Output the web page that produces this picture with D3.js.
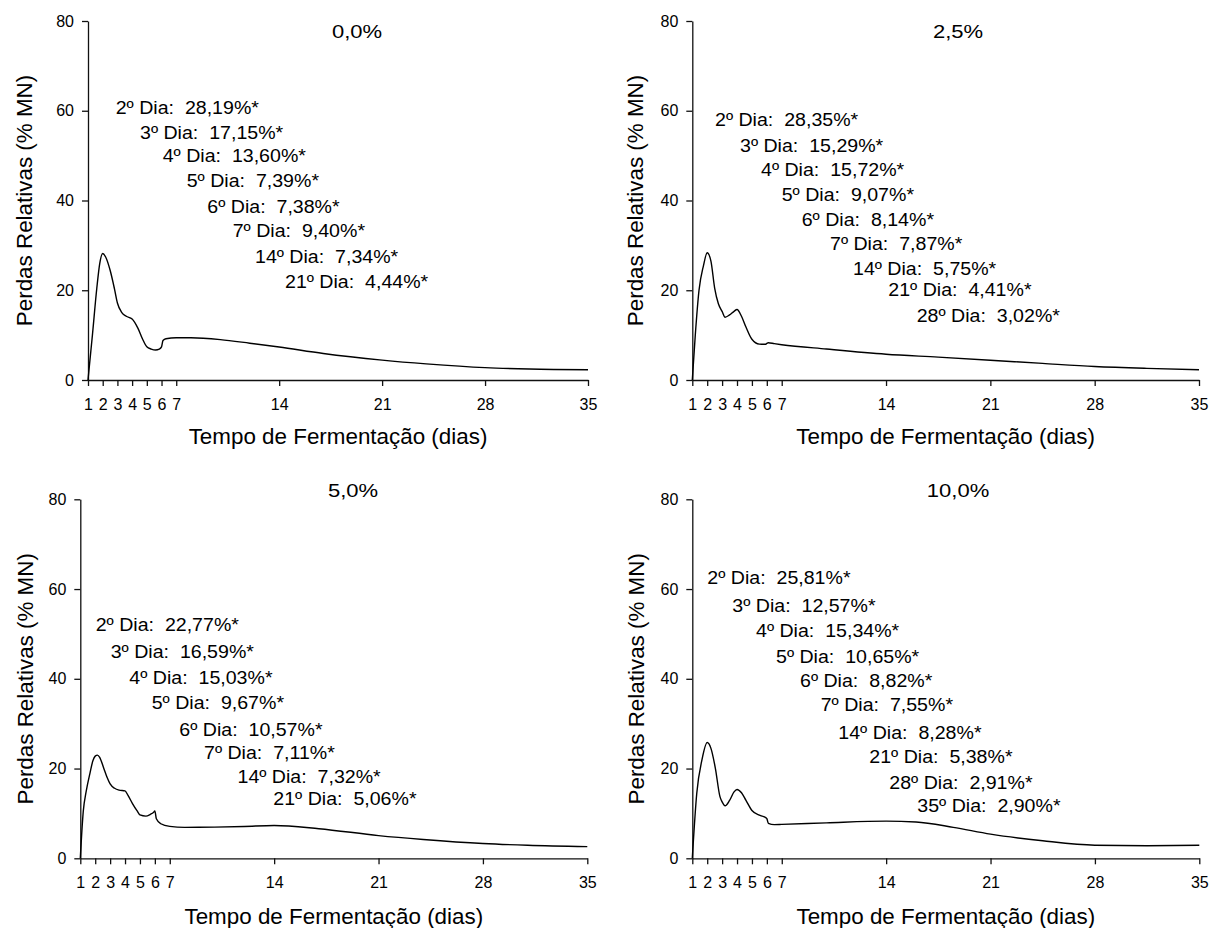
<!DOCTYPE html>
<html>
<head>
<meta charset="utf-8">
<script src="https://cdn.jsdelivr.net/npm/d3@7"></script>
<style>
  body { margin: 0; background: #fff; }
  svg { display: block; }
  text { font-family: "Liberation Sans", Arial, Helvetica, sans-serif; fill: #000; }
</style>
</head>
<body>
<svg id="chart" width="1210" height="928"></svg>
<script>
// ---- data -------------------------------------------------------------
const dayTicks  = [1, 2, 3, 4, 5, 6, 7, 14, 21, 28, 35];
const lossTicks = [0, 20, 40, 60, 80];
const doses     = ["0,0%", "2,5%", "5,0%", "10,0%"];
const xTitle    = "Tempo de Fermentação (dias)";
const yTitle    = "Perdas Relativas (% MN)";

// relative losses (% MN) along fermentation time (days), one series per dose
const days00 = [1, 1.3, 1.6, 1.8, 2, 2.2, 2.5, 2.8, 3, 3.3, 3.6, 4, 4.4, 4.7, 5, 5.3, 5.6, 5.85, 6, 6.1, 6.3, 7, 8, 10, 12, 14, 17, 21, 24, 28, 31, 35];
const loss00 = [0, 10, 20.5, 26, 28.19, 27.4, 24.5, 20.3, 17.15, 15, 14.2, 13.60, 11.5, 9.2, 7.39, 6.9, 6.7, 6.9, 7.38, 8.8, 9.2, 9.40, 9.4, 9.0, 8.2, 7.34, 5.9, 4.44, 3.6, 2.75, 2.45, 2.3];

const days25 = [1, 1.2, 1.45, 1.75, 2, 2.25, 2.5, 2.75, 3, 3.2, 3.5, 3.8, 4, 4.3, 4.6, 5, 5.5, 5.9, 6, 6.1, 6.5, 7, 10, 14, 17.5, 21, 24.5, 28, 31.5, 35];
const loss25 = [0, 10, 20, 25.5, 28.35, 26.5, 20.5, 17.0, 15.29, 14.0, 14.5, 15.3, 15.72, 14.2, 11.8, 9.07, 8.0, 7.95, 8.14, 8.3, 8.1, 7.87, 6.9, 5.75, 5.1, 4.41, 3.7, 3.02, 2.6, 2.3];

const days50 = [1, 1.2, 1.4, 1.65, 1.85, 2, 2.15, 2.3, 2.55, 2.8, 3, 3.3, 3.6, 4, 4.2, 4.5, 4.8, 5, 5.4, 5.7, 5.9, 6, 6.1, 6.4, 7, 8, 10, 12, 14, 17, 21, 24, 28, 31, 35];
const loss50 = [0, 10.5, 15, 19, 21.8, 22.77, 23.0, 22.5, 20.3, 18, 16.59, 15.6, 15.2, 15.03, 14.0, 12.2, 10.6, 9.67, 9.4, 9.8, 10.2, 10.57, 8.8, 7.7, 7.11, 6.9, 6.95, 7.1, 7.32, 6.6, 5.06, 4.2, 3.3, 2.9, 2.6];

const days100 = [1, 1.3, 1.65, 2, 2.25, 2.55, 2.85, 3, 3.2, 3.5, 3.8, 4, 4.3, 4.6, 5, 5.5, 5.95, 6, 6.1, 6.5, 7, 10, 14, 16, 18.5, 21, 24.5, 28, 31.5, 35];
const loss100 = [0, 14.5, 22, 25.81, 24.5, 20, 13.8, 12.57, 11.7, 12.9, 14.8, 15.34, 14.6, 12.9, 10.65, 9.6, 9.0, 8.82, 7.8, 7.5, 7.55, 7.9, 8.28, 8.1, 6.9, 5.38, 3.9, 2.91, 2.8, 2.90];

// days whose loss is marked as significant (*)
const noteDays00  = [2, 3, 4, 5, 6, 7, 14, 21];
const noteDays25  = [2, 3, 4, 5, 6, 7, 14, 21, 28];
const noteDays50  = [2, 3, 4, 5, 6, 7, 14, 21];
const noteDays100 = [2, 3, 4, 5, 6, 7, 14, 21, 28, 35];

// ---- layout -------------------------------------------------------------
const panels = [
  { days: days00, loss: loss00, notes: noteDays00,
    x: [88, 588], y: [380, 21], titleX: 357, titleY: 38, yLabX: 32, xLabY: 444,
    noteX: [115.7, 140, 162.7, 186.7, 207.3, 232.7, 255, 285],
    noteY: [114, 138.5, 162, 187, 212.5, 237, 262.5, 288] },
  { days: days25, loss: loss25, notes: noteDays25,
    x: [692.3, 1199], y: [380, 21], titleX: 958, titleY: 38, yLabX: 643, xLabY: 444,
    noteX: [715, 740, 761, 781.7, 801.7, 830, 853, 888.3, 916.7],
    noteY: [126, 151.5, 176, 201, 226, 250, 274.5, 296, 322] },
  { days: days50, loss: loss50, notes: noteDays50,
    x: [80.3, 587.3], y: [858.3, 499.3], titleX: 353, titleY: 497, yLabX: 33, xLabY: 924,
    noteX: [95.7, 110.7, 129.3, 151.7, 179.3, 204, 237.5, 273.3],
    noteY: [631, 657.7, 684.3, 709.3, 736, 759.3, 782.7, 805.3] },
  { days: days100, loss: loss100, notes: noteDays100,
    x: [692.3, 1199.3], y: [858.3, 499.3], titleX: 958, titleY: 497, yLabX: 644, xLabY: 924,
    noteX: [707.3, 732.3, 756, 776, 800, 820.7, 838.3, 869.3, 889.3, 917.3],
    noteY: [584.3, 611.7, 636.7, 663.3, 686.7, 711, 738.5, 763.3, 789.3, 812] }
];

const svg = d3.select("#chart");
const pct = v => v.toFixed(2).replace(".", ",");

// text drawn with a slight horizontal stretch
function wideText(g, x, y, s, size, sx, anchor) {
  return g.append("text")
    .attr("transform", `translate(${x},${y}) scale(${sx},1)`)
    .attr("text-anchor", anchor || "start")
    .style("font-size", size + "px")
    .style("white-space", "pre")
    .text(s);
}

panels.forEach((p, i) => {
  const g = svg.append("g");
  const x = d3.scaleLinear().domain([1, 35]).range(p.x);
  const y = d3.scaleLinear().domain([0, 80]).range(p.y);

  // x axis
  const gx = g.append("g")
    .attr("transform", `translate(0,${p.y[0]})`)
    .call(d3.axisBottom(x).tickValues(dayTicks).tickFormat(d3.format("d"))
      .tickSize(6).tickSizeOuter(0).tickPadding(12.5));
  // y axis
  const gy = g.append("g")
    .attr("transform", `translate(${p.x[0]},0)`)
    .call(d3.axisLeft(y).tickValues(lossTicks).tickFormat(d3.format("d"))
      .tickSize(6).tickSizeOuter(0).tickPadding(8));

  [gx, gy].forEach(a => {
    a.select(".domain").attr("stroke", "#111").attr("stroke-width", 1.3);
    a.selectAll(".tick line").attr("stroke", "#111").attr("stroke-width", 1.3);
    a.selectAll(".tick text")
      .style("font-family", "'Liberation Sans', Arial, sans-serif")
      .style("font-size", "16px").attr("fill", "#000");
  });

  // loss curve
  const pts = p.days.map((d, k) => [d, p.loss[k]]);
  g.append("path")
    .datum(pts)
    .attr("fill", "none")
    .attr("stroke", "#000")
    .attr("stroke-width", 1.4)
    .attr("stroke-linejoin", "round")
    .attr("d", d3.line().x(d => x(d[0])).y(d => y(d[1])).curve(d3.curveMonotoneX));

  // dose title
  wideText(g, p.titleX, p.titleY, doses[i], 18.5, 1.19, "middle");

  // daily significance notes
  p.notes.forEach((d, k) => {
    const v = p.loss[p.days.indexOf(d)];
    wideText(g, p.noteX[k], p.noteY[k], `${d}º Dia:  ${pct(v)}%*`, 17.5, 1.12, "start");
  });

  // axis titles
  g.append("text")
    .attr("x", (p.x[0] + p.x[1]) / 2)
    .attr("y", p.xLabY)
    .attr("text-anchor", "middle")
    .style("font-size", "22.4px")
    .text(xTitle);
  g.append("text")
    .attr("transform", `translate(${p.yLabX},${(p.y[0] + p.y[1]) / 2}) rotate(-90)`)
    .attr("text-anchor", "middle")
    .style("font-size", "22.4px")
    .text(yTitle);
});
</script>
</body>
</html>
